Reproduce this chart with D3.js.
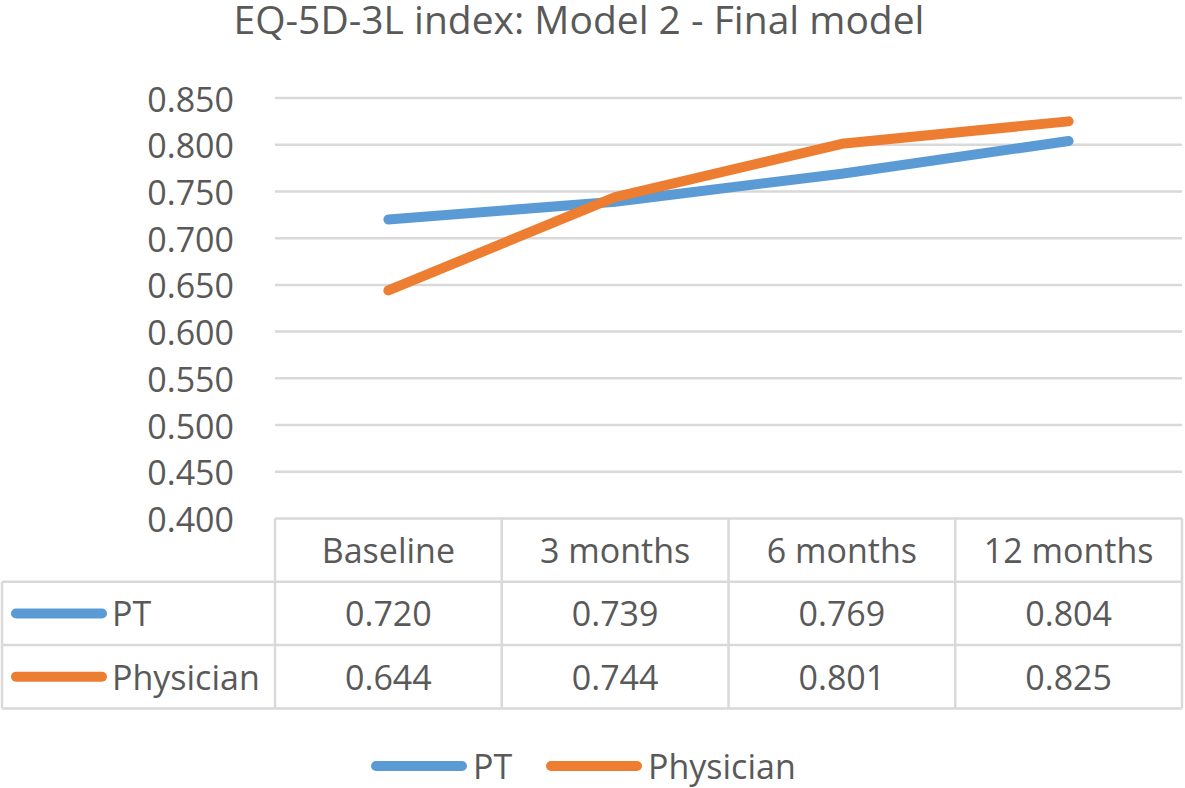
<!DOCTYPE html>
<html>
<head>
<meta charset="utf-8">
<script src="https://cdn.jsdelivr.net/npm/d3@7"></script>
<style>
  html, body { margin: 0; padding: 0; background: #fff; }
  svg text { font-family: "Open Sans", sans-serif; fill: #595959; }
</style>
</head>
<body>
<svg id="chart" width="1185" height="788"></svg>
<script>
const title = "EQ-5D-3L index: Model 2 - Final model";
const categories = ["Baseline", "3 months", "6 months", "12 months"];
const seriesNames = ["PT", "Physician"];
const ptValues = [0.720, 0.739, 0.769, 0.804];
const physicianValues = [0.644, 0.744, 0.801, 0.825];
const yTicks = [0.400, 0.450, 0.500, 0.550, 0.600, 0.650, 0.700, 0.750, 0.800, 0.850];
const colors = ["#5B9BD5", "#ED7D31"];

const series = [
  { name: seriesNames[0], values: ptValues, color: colors[0] },
  { name: seriesNames[1], values: physicianValues, color: colors[1] }
];

const svg = d3.select("#chart");
const plotLeft = 275, plotRight = 1182;
const yTop = 98, yBottom = 518.5;
const rowH = 63.3;
const tableLeft = 2;
const gridColor = "#D9D9D9";
const fmt = d3.format(".3f");

const x = d3.scaleBand().domain(categories).range([plotLeft, plotRight]);
const y = d3.scaleLinear().domain([0.4, 0.85]).range([yBottom, yTop]);

// Title
svg.append("text")
  .attr("x", 579).attr("y", 34)
  .attr("text-anchor", "middle")
  .style("font-size", "39px")
  .text(title);

// gridlines
svg.append("g").selectAll("line").data(yTicks.slice(1)).join("line")
  .attr("x1", plotLeft).attr("x2", plotRight)
  .attr("y1", d => y(d)).attr("y2", d => y(d))
  .attr("stroke", gridColor).attr("stroke-width", 2.5);

// y axis labels
const yAxis = d3.axisLeft(y).tickValues(yTicks).tickFormat(fmt).tickSize(0).tickPadding(0);
const ya = svg.append("g").attr("transform", `translate(234,0)`).call(yAxis);
ya.select(".domain").remove();
ya.selectAll("text").style("font-size", "34px").attr("fill", "#595959")
  .attr("font-family", "Open Sans").attr("dy", null).attr("dominant-baseline", "central");

// Table
const tbl = svg.append("g");
const rowsY = [yBottom, yBottom + rowH, yBottom + 2 * rowH, yBottom + 3 * rowH];
tbl.append("line").attr("x1", plotLeft).attr("x2", plotRight).attr("y1", rowsY[0]).attr("y2", rowsY[0]);
[1, 2, 3].forEach(i => {
  tbl.append("line").attr("x1", tableLeft).attr("x2", plotRight).attr("y1", rowsY[i]).attr("y2", rowsY[i]);
});
tbl.append("line").attr("x1", tableLeft).attr("x2", tableLeft).attr("y1", rowsY[1]).attr("y2", rowsY[3]);
tbl.selectAll("line.v").data(categories.map(c => x(c)).concat([plotRight])).join("line")
  .attr("class", "v")
  .attr("x1", d => d).attr("x2", d => d).attr("y1", rowsY[0]).attr("y2", rowsY[3]);
tbl.selectAll("line").attr("stroke", gridColor).attr("stroke-width", 2.5);

tbl.selectAll("text.hdr").data(categories).join("text")
  .attr("class", "hdr")
  .attr("x", d => x(d) + x.bandwidth() / 2)
  .attr("y", (rowsY[0] + rowsY[1]) / 2)
  .attr("text-anchor", "middle").attr("dominant-baseline", "central")
  .style("font-size", "34px")
  .text(d => d);

series.forEach((s, i) => {
  const cy = (rowsY[i + 1] + rowsY[i + 2]) / 2;
  tbl.append("line").attr("x1", 16).attr("x2", 102).attr("y1", cy).attr("y2", cy)
    .attr("stroke", s.color).attr("stroke-width", 10).attr("stroke-linecap", "round");
  tbl.append("text").attr("x", 112).attr("y", cy)
    .attr("dominant-baseline", "central").style("font-size", "34px").text(s.name);
  tbl.selectAll(null).data(s.values).join("text")
    .attr("x", (d, j) => x(categories[j]) + x.bandwidth() / 2)
    .attr("y", cy)
    .attr("text-anchor", "middle").attr("dominant-baseline", "central")
    .style("font-size", "34px")
    .text(d => fmt(d));
});

// lines
const line = d3.line()
  .x((d, j) => x(categories[j]) + x.bandwidth() / 2)
  .y(d => y(d));
svg.append("g").selectAll("path").data(series).join("path")
  .attr("d", d => line(d.values))
  .attr("fill", "none")
  .attr("stroke", d => d.color)
  .attr("stroke-width", 10)
  .attr("stroke-linecap", "round")
  .attr("stroke-linejoin", "round");

// bottom legend
const legY = 766;
const legItems = [{ s: series[0], x: 372 }, { s: series[1], x: 547 }];
legItems.forEach(it => {
  svg.append("line").attr("x1", it.x + 4).attr("x2", it.x + 90).attr("y1", legY).attr("y2", legY)
    .attr("stroke", it.s.color).attr("stroke-width", 10).attr("stroke-linecap", "round");
  svg.append("text").attr("x", it.x + 101).attr("y", legY)
    .attr("dominant-baseline", "central").style("font-size", "34px").text(it.s.name);
});
</script>
</body>
</html>
